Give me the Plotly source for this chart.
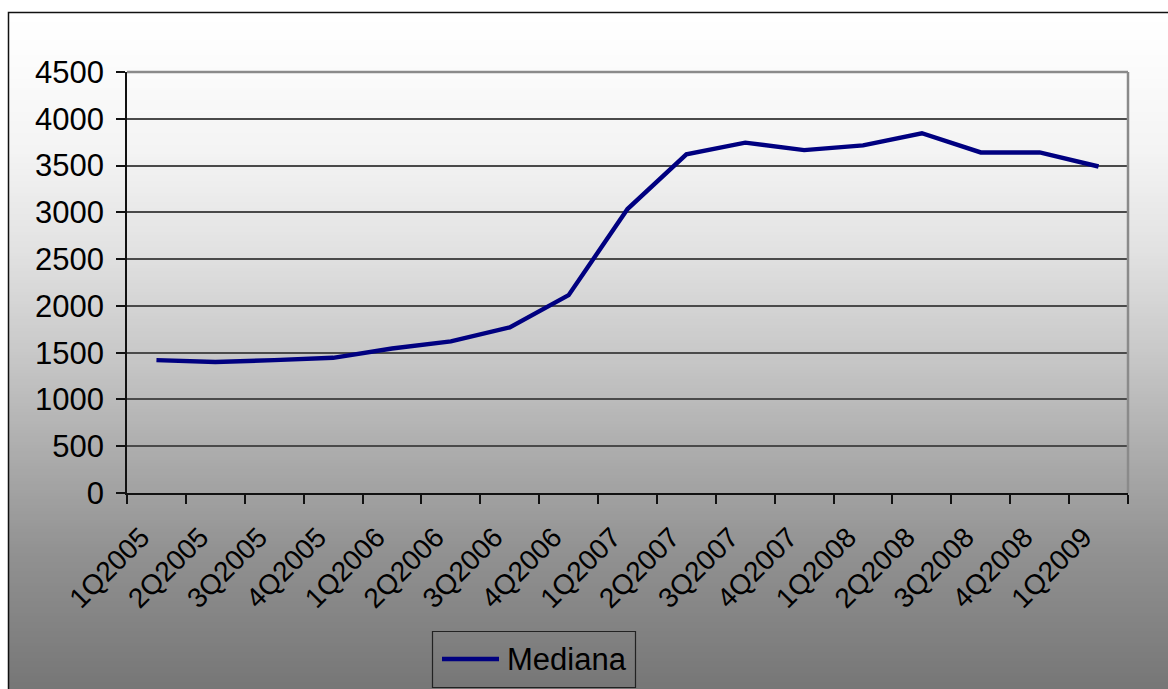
import plotly.graph_objects as go

# Quarterly median values
quarters = ["1Q2005", "2Q2005", "3Q2005", "4Q2005",
            "1Q2006", "2Q2006", "3Q2006", "4Q2006",
            "1Q2007", "2Q2007", "3Q2007", "4Q2007",
            "1Q2008", "2Q2008", "3Q2008", "4Q2008",
            "1Q2009"]
mediana = [1420, 1400, 1420, 1445, 1545, 1620, 1770, 2115,
           3035, 3620, 3745, 3665, 3715, 3845, 3640, 3640, 3490]
y_ticks = [0, 500, 1000, 1500, 2000, 2500, 3000, 3500, 4000, 4500]
series_name = "Mediana"
line_color = "#000080"

W, H = 1168, 689
L, R, T, B = 127, 40, 72, 196
PW, PH = W - L - R, H - T - B

def px_x(px):
    return (px - L) / PW

def px_y(py):
    return (H - B - py) / PH

FONT = "Liberation Sans, Arial, sans-serif"
FS = 31
FS_X = 28

fig = go.Figure()
fig.add_trace(go.Scatter(
    x=quarters, y=mediana, mode="lines", name=series_name,
    line=dict(color=line_color, width=4.4), showlegend=False,
))

# vertical grey gradient behind the chart, drawn as thin bands
stops = [(13, 255), (50, 253), (150, 244), (250, 226), (350, 201),
         (450, 173), (550, 146), (689, 118)]

def shade(py):
    for (y0, c0), (y1, c1) in zip(stops, stops[1:]):
        if py <= y1:
            return c0 + (c1 - c0) * (py - y0) / (y1 - y0)
    return stops[-1][1]

shapes = []
step = 3
py = 13
while py < H + step:
    c = int(round(shade(py + step / 2)))
    col = f"rgb({c},{c},{c})"
    shapes.append(dict(
        type="rect", xref="paper", yref="paper", layer="below",
        x0=px_x(8.5), x1=px_x(W + 20), y0=px_y(py + step + 0.5), y1=px_y(py),
        fillcolor=col, line=dict(width=0),
    ))
    py += step

# chart frame
shapes.append(dict(
    type="rect", xref="paper", yref="paper", layer="above",
    x0=px_x(8.5), x1=px_x(W + 20), y0=px_y(H + 20), y1=px_y(12.5),
    fillcolor="rgba(0,0,0,0)", line=dict(color="#111111", width=1.5),
))
# plot-area border on top and right
shapes.append(dict(type="line", xref="paper", yref="paper", layer="above",
                   x0=0, x1=1, y0=1, y1=1, line=dict(color="#8a8a8a", width=2.5)))
shapes.append(dict(type="line", xref="paper", yref="paper", layer="above",
                   x0=1, x1=1, y0=0, y1=1, line=dict(color="#8a8a8a", width=2.5)))

# legend box with line sample
shapes.append(dict(type="rect", xref="paper", yref="paper", layer="above",
                   x0=px_x(432.5), x1=px_x(635.5), y0=px_y(687.5), y1=px_y(631.5),
                   fillcolor="rgba(0,0,0,0)", line=dict(color="#222222", width=1.2)))
shapes.append(dict(type="line", xref="paper", yref="paper", layer="above",
                   x0=px_x(442), x1=px_x(499), y0=px_y(659), y1=px_y(659),
                   line=dict(color=line_color, width=4.4)))

annotations = [dict(
    text=series_name, xref="paper", yref="paper",
    x=px_x(505), y=px_y(659), xanchor="left", yanchor="middle",
    showarrow=False, font=dict(family=FONT, size=FS, color="black"),
)]

fig.update_layout(
    width=W, height=H,
    margin=dict(l=L, r=R, t=T, b=B, pad=0),
    paper_bgcolor="white",
    plot_bgcolor="rgba(0,0,0,0)",
    font=dict(family=FONT, size=FS, color="black"),
    shapes=shapes,
    annotations=annotations,
    showlegend=False,
    xaxis=dict(
        type="category", categoryorder="array", categoryarray=quarters,
        range=[-0.5, len(quarters) - 0.5],
        tickson="boundaries", ticks="outside", ticklen=9, tickwidth=1.5,
        tickcolor="#111111",
        ticklabelstandoff=15, ticklabelshift=-15,
        showline=True, linecolor="#111111", linewidth=1.5,
        showgrid=False, zeroline=False,
        tickangle=-45, tickfont=dict(family=FONT, size=FS_X, color="black"),
        fixedrange=True,
    ),
    yaxis=dict(
        range=[0, 4500], tickmode="array", tickvals=y_ticks,
        ticktext=[str(v) for v in y_ticks],
        ticks="outside", ticklen=9, tickwidth=1.5, tickcolor="#111111",
        ticklabelstandoff=6,
        showline=True, linecolor="#111111", linewidth=1.5,
        showgrid=True, gridcolor="#4a4a4a", gridwidth=1.5,
        zeroline=False,
        tickfont=dict(family=FONT, size=FS, color="black"),
        fixedrange=True,
    ),
)

fig.write_html("out.html")
